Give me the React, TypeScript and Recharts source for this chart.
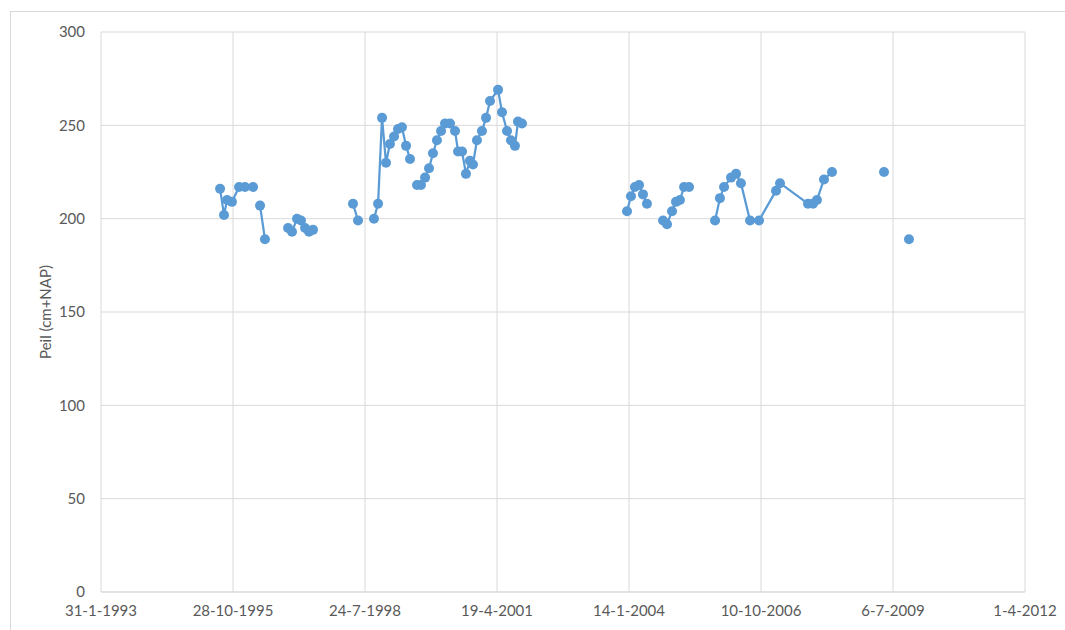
import React from 'react';
import { LineChart, Line, XAxis, YAxis, CartesianGrid, Label } from 'recharts';

// Dates as spreadsheet serial day numbers; null level = break in the line
const dates = [
  34902, 34932, 34955, 34992, 35046, 35091, 35152, 35180,
  35205, 35242, 35330,
  35417, 35447, 35485, 35515, 35546, 35576, 35606, 35750,
  35909, 35947, 36010,
  36068, 36099, 36129, 36159, 36189, 36220, 36250, 36280, 36311, 36341, 36370,
  36394, 36424, 36455, 36485, 36515, 36545, 36576, 36606, 36644, 36682, 36705, 36735,
  36765, 36795, 36818, 36848, 36886, 36917, 36947, 37008, 37038, 37076, 37106, 37136,
  37159, 37189, 37500,
  37985, 38015, 38045, 38076, 38106, 38136, 38200,
  38258, 38288, 38326, 38356, 38386, 38417, 38455, 38550,
  38652, 38689, 38720, 38773, 38811, 38848, 38917, 38985, 39114, 39144, 39356, 39394,
  39424, 39477, 39538, 39700,
  39932, 40030,
  40121,
];

const levels = [
  216, 202, 210, 209, 217, 217, 217, null,
  207, 189, null,
  195, 193, 200, 199, 195, 193, 194, null,
  208, 199, null,
  200, 208, 254, 230, 240, 244, 248, 249, 239, 232, null,
  218, 218, 222, 227, 235, 242, 247, 251, 251, 247, 236, 236,
  224, 231, 229, 242, 247, 254, 263, 269, 257, 247, 242, 239,
  252, 251, null,
  204, 212, 217, 218, 213, 208, null,
  199, 197, 204, 209, 210, 217, 217, null,
  199, 211, 217, 222, 224, 219, 199, 199, 215, 219, 208, 208,
  210, 221, 225, null,
  225, null,
  189,
];

const xTicks = [34000, 35000, 36000, 37000, 38000, 39000, 40000, 41000];
const yTicks = [0, 50, 100, 150, 200, 250, 300];
const yTitle = 'Peil (cm+NAP)';

const data = dates.map((d, i) => ({ date: d, level: levels[i] }));

const fmtDate = (v: number) => {
  const d = new Date(Date.UTC(1899, 11, 30) + Math.round(v) * 86400000);
  return `${d.getUTCDate()}-${d.getUTCMonth() + 1}-${d.getUTCFullYear()}`;
};

const BLUE = '#5B9BD5';
const GRID = '#d9d9d9';
const TEXT = '#595959';
const FONT = 'Lato, "Open Sans", sans-serif';
const FS = 15;

export default function App() {
  return (
    <div style={{ position: 'relative', width: 1065, height: 630, overflow: 'hidden', background: '#fff', fontFamily: FONT }}>
      <style>{'body{margin:0;overflow:hidden;}'}</style>
      <div
        style={{
          position: 'absolute',
          left: 10,
          top: 11,
          width: 1100,
          height: 700,
          border: `1px solid ${GRID}`,
          boxSizing: 'border-box',
        }}
      />
      <div style={{ position: 'absolute', left: 0, top: 0 }}>
        <LineChart
          width={1065}
          height={630}
          data={data}
          margin={{ top: 32, right: 40, left: 41, bottom: 8 }}
        >
          <CartesianGrid stroke={GRID} strokeWidth={1} />
          <XAxis
            dataKey="date"
            type="number"
            domain={[34000, 41000]}
            ticks={xTicks}
            tickFormatter={fmtDate}
            height={30}
            axisLine={{ stroke: GRID }}
            tickLine={false}
            tickSize={6}
            tickMargin={7}
            tick={{ fill: TEXT, fontSize: FS, fontFamily: FONT }}
            interval={0}
          />
          <YAxis
            type="number"
            domain={[0, 300]}
            ticks={yTicks}
            width={60}
            axisLine={false}
            tickLine={false}
            tickSize={8}
            tickMargin={8}
            tick={{ fill: TEXT, fontSize: FS, fontFamily: FONT }}
            interval={0}
          >
            <Label
              content={(props: any) => {
                const vb = props.viewBox || { x: 0, y: 0, width: 0, height: 0 };
                const cx = 45;
                const cy = vb.y + vb.height / 2;
                return (
                  <text
                    x={cx}
                    y={cy}
                    transform={`rotate(-90, ${cx}, ${cy})`}
                    textAnchor="middle"
                    dominantBaseline="central"
                    fill={TEXT}
                    fontSize={FS}
                    fontFamily={FONT}
                  >
                    {yTitle}
                  </text>
                );
              }}
            />
          </YAxis>
          <Line
            dataKey="level"
            type="linear"
            stroke={BLUE}
            strokeWidth={2.25}
            dot={{ r: 5, fill: BLUE, stroke: BLUE, strokeWidth: 0 }}
            activeDot={false}
            connectNulls={false}
            isAnimationActive={false}
          />
        </LineChart>
      </div>
    </div>
  );
}
